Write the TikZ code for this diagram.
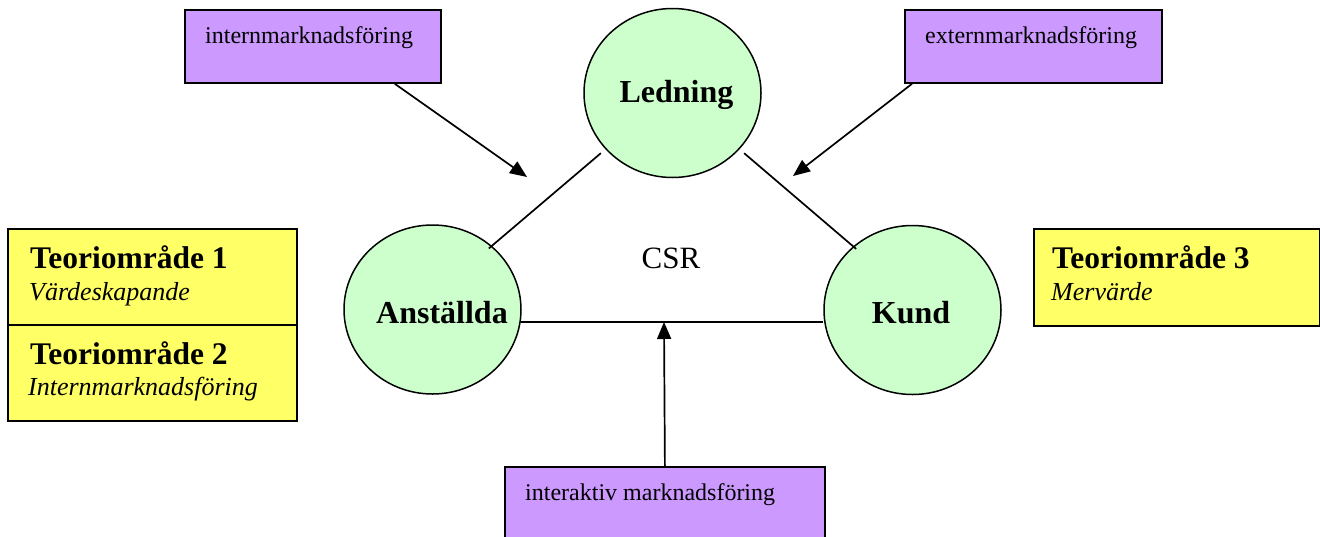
\documentclass[tikz,border=0pt]{standalone}
\usepackage{fontspec}
\setmainfont{Liberation Serif}
\usetikzlibrary{shapes.geometric,arrows.meta,calc}
\definecolor{purp}{HTML}{CC99FF}
\definecolor{grn}{HTML}{CCFFCC}
\definecolor{yel}{HTML}{FFFF66}
\begin{document}
\begin{tikzpicture}[x=1pt,y=-1pt,
  pbox/.style={draw, fill=purp, line width=1.8pt, rectangle, inner sep=0, anchor=north west},
  ybox/.style={draw, fill=yel, line width=1.7pt, rectangle, inner sep=0, anchor=north west},
  circ/.style={draw, fill=grn, ellipse, line width=1.5pt, minimum width=177pt, minimum height=169pt, inner sep=0},
  ptext/.style={anchor=base west, inner sep=0, font=\fontsize{24}{28}\selectfont},
  ctext/.style={anchor=base, inner sep=0, font=\bfseries\fontsize{32}{38}\selectfont},
  ttitle/.style={anchor=base west, inner sep=0, font=\bfseries\fontsize{31.5}{36}\selectfont},
  tsub/.style={anchor=base west, inner sep=0, font=\itshape\fontsize{26}{30}\selectfont},
  conn/.style={line width=1.7pt},
  arr/.style={line width=1.7pt, -{Triangle[length=17pt,width=14pt]}}
]
\useasboundingbox (0,0) rectangle (1320,536);

% purple boxes
\node[pbox, minimum width=256pt, minimum height=73pt] (intern) at (184,9) {};
\node[ptext] (interntxt) at (205,43) {internmarknadsföring};
\node[pbox, minimum width=257pt, minimum height=73pt] (extern) at (904,9) {};
\node[ptext] (externtxt) at (925,43) {externmarknadsföring};
\node[pbox, minimum width=320pt, minimum height=100pt] (inter) at (504,466) {};
\node[ptext] (intertxt) at (525,500) {interaktiv marknadsföring};

% yellow boxes
\node[ybox, minimum width=289pt, minimum height=96pt] (y1) at (7,228) {};
\node[ybox, minimum width=289pt, minimum height=96pt] (y2) at (7,324) {};
\node[ybox, minimum width=286pt, minimum height=97pt] (y3) at (1033,228) {};
\node[ttitle] (y1t) at (30,268) {Teoriområde 1};
\node[tsub] (y1s) at (29,300) {Värdeskapande};
\node[ttitle] (y2t) at (30,364) {Teoriområde 2};
\node[tsub] (y2s) at (28,395) {Internmarknadsföring};
\node[ttitle] (y3t) at (1052,268) {Teoriområde 3};
\node[tsub] (y3s) at (1051,300) {Mervärde};

% circles
\node[circ] (led) at (672.5,93) {};
\node[circ] (ans) at (432.5,309.5) {};
\node[circ] (kund) at (912.5,310) {};
\node[ctext] (ledtxt) at (676.5,102) {Ledning};
\node[ctext] (anstxt) at (442,323) {Anställda};
\node[ctext] (kundtxt) at (911,323) {Kund};

\node[anchor=base, inner sep=0, font=\fontsize{31}{36}\selectfont] (csr) at (671,268) {CSR};

% connectors between circles
\draw[conn, shorten <=6pt, shorten >=-4pt] (led.220) -- (ans.47);
\draw[conn, shorten <=6pt, shorten >=-4pt] (led.320) -- (kund.133);
\draw[conn] (ans.-8) -- (ans.-8 -| kund.west);

% arrows
\coordinate (itip) at (527,177);
\coordinate (etip) at (793,176);
\coordinate (hit) at (664,322);
\draw[arr] ([xshift=-47pt]intern.south east) -- (itip);
\draw[arr] ([xshift=8pt]extern.south west) -- (etip);
\draw[arr] (inter.north) -- (hit);
\end{tikzpicture}
\end{document}
